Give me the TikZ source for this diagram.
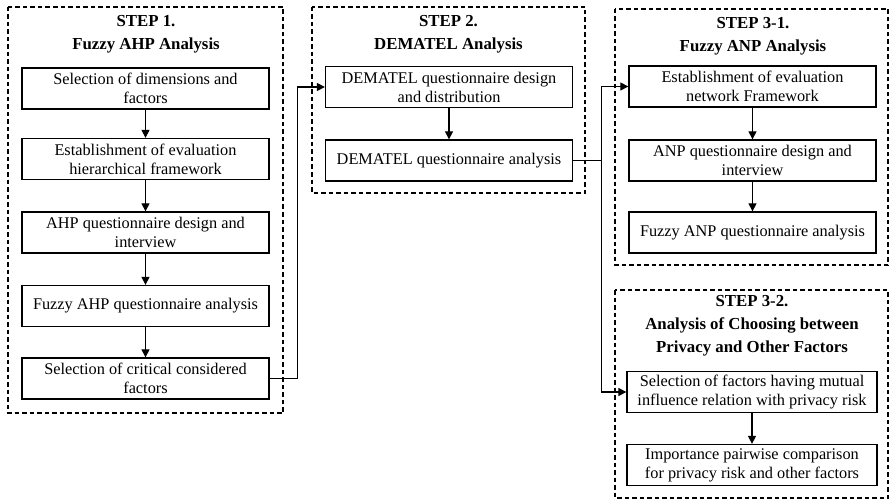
\documentclass[tikz,border=0pt]{standalone}
\usepackage{fontspec}
\setmainfont{Liberation Serif}
\usetikzlibrary{arrows.meta}
\tikzset{
  box/.style={draw,line width=1.3pt,minimum width=247pt,minimum height=41pt,
    inner sep=2pt,align=center,font=\fontsize{16.3}{19}\selectfont},
  frame/.style={draw,line width=1.2pt,dash pattern=on 4.5pt off 3pt},
  title/.style={align=center,font=\bfseries\fontsize{16.8}{23}\selectfont},
  link/.style={line width=1.2pt,-{Triangle[length=8pt,width=8pt]}},
}
\begin{document}
\begin{tikzpicture}[x=1pt,y=-1pt]
\useasboundingbox (0,0) rectangle (889,500);

% Step 1
\draw[frame] (8,7) rectangle (283,413);
\node[title] (t1) at (146,34.5) {STEP 1.\\Fuzzy AHP Analysis};
\node[box] (a1) at (145.5,88.5) {Selection of dimensions and\\factors};
\node[box] (a2) at (145.5,159) {Establishment of evaluation\\hierarchical framework};
\node[box] (a3) at (145.5,232.5) {AHP questionnaire design and\\interview};
\node[box] (a4) at (145.5,306) {Fuzzy AHP questionnaire analysis};
\node[box] (a5) at (145.5,378.5) {Selection of critical considered\\factors};
\foreach \i/\j in {a1/a2,a2/a3,a3/a4,a4/a5}
  \draw[link] (\i) -- (\j);

% Step 2
\draw[frame] (312,7) rectangle (585,193);
\node[title] (t2) at (448.5,34.5) {STEP 2.\\DEMATEL Analysis};
\node[box] (b1) at (449,87) {DEMATEL questionnaire design\\and distribution};
\node[box] (b2) at (449,160.5) {DEMATEL questionnaire analysis};
\draw[link] (b1) -- (b2);

% Step 3-1
\draw[frame] (615,9) rectangle (888,265);
\node[title] (t3) at (753,36) {STEP 3-1.\\Fuzzy ANP Analysis};
\node[box] (c1) at (752.5,86.5) {Establishment of evaluation\\network Framework};
\node[box] (c2) at (752.5,160.5) {ANP questionnaire design and\\interview};
\node[box] (c3) at (752.5,232.5) {Fuzzy ANP questionnaire analysis};
\foreach \i/\j in {c1/c2,c2/c3}
  \draw[link] (\i) -- (\j);

% Step 3-2
\draw[frame] (615,290) rectangle (888,498);
\node[title] (t4) at (752,325.5) {STEP 3-2.\\Analysis of Choosing between\\Privacy and Other Factors};
\node[box,minimum width=250pt] (d1) at (752,392) {Selection of factors having mutual\\influence relation with privacy risk};
\node[box,minimum width=250pt] (d2) at (752,465) {Importance pairwise comparison\\for privacy risk and other factors};
\draw[link] (d1) -- (d2);

% between steps
\draw[link] (a5.east) -- ++(28,0) |- (b1.west);
\draw[line width=1.2pt] (b2.east) -- ++(28,0) coordinate (fork);
\draw[link] (fork) |- (c1.west);
\draw[link] (fork) |- (d1.west);

\end{tikzpicture}
\end{document}
